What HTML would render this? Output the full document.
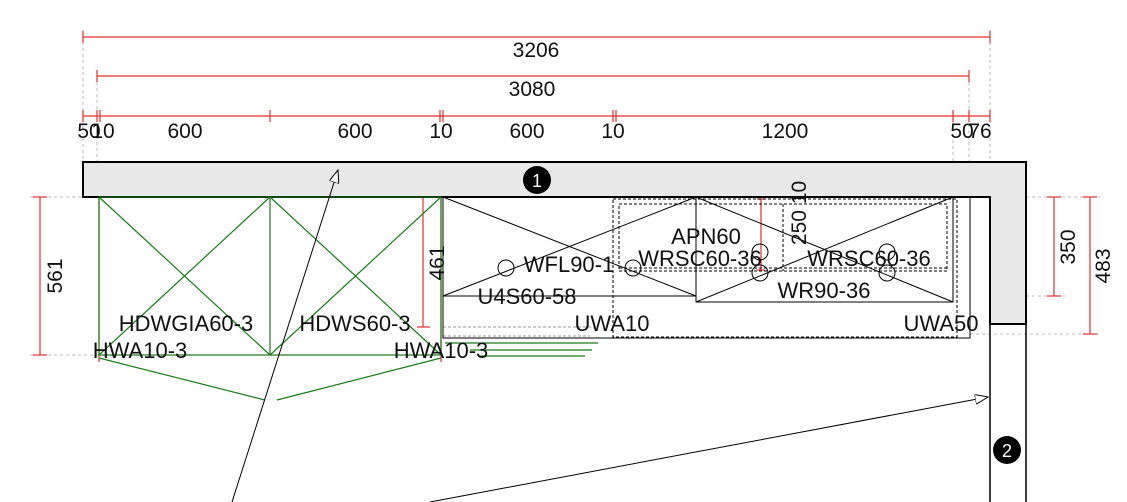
<!DOCTYPE html>
<html><head><style>body{margin:0;background:#fff}svg{display:block;font-family:"Liberation Sans",sans-serif}</style></head>
<body>
<svg width="1127" height="502" viewBox="0 0 1127 502">
<defs><marker id="oa" markerWidth="14" markerHeight="10" refX="13" refY="5" orient="auto" markerUnits="userSpaceOnUse"><path d="M0,0 L13,5 L0,10 Z" fill="#fff" stroke="#000" stroke-width="1"/></marker></defs>
<g stroke="#bbb" stroke-dasharray="3,3" stroke-width="1" fill="none">
<line x1="83" y1="30" x2="83" y2="162"/><line x1="97" y1="70" x2="97" y2="197"/>
<line x1="969" y1="70" x2="969" y2="197"/><line x1="990" y1="30" x2="990" y2="162"/>
<line x1="953" y1="110" x2="953" y2="197"/>
<line x1="30" y1="197" x2="83" y2="197"/><line x1="30" y1="355" x2="99" y2="355"/>
<line x1="990" y1="197" x2="1100" y2="197"/><line x1="990" y1="296" x2="1065" y2="296"/><line x1="970" y1="334" x2="1100" y2="334"/>
</g>
<g stroke="#e03030" stroke-width="1.2" fill="none">
<line x1="83" y1="37" x2="990" y2="37"/><line x1="83" y1="31" x2="83" y2="43"/><line x1="990" y1="31" x2="990" y2="43"/>
<line x1="97" y1="76" x2="969" y2="76"/><line x1="97" y1="70" x2="97" y2="82"/><line x1="969" y1="70" x2="969" y2="82"/>
<line x1="83" y1="116" x2="990" y2="116"/>
<g><line x1="83" y1="110" x2="83" y2="122"/><line x1="97" y1="110" x2="97" y2="122"/><line x1="100" y1="110" x2="100" y2="122"/><line x1="270" y1="110" x2="270" y2="122"/><line x1="440" y1="110" x2="440" y2="122"/><line x1="443" y1="110" x2="443" y2="122"/><line x1="613" y1="110" x2="613" y2="122"/><line x1="616" y1="110" x2="616" y2="122"/><line x1="953" y1="110" x2="953" y2="122"/><line x1="969" y1="110" x2="969" y2="122"/><line x1="990" y1="110" x2="990" y2="122"/></g>
<line x1="40" y1="197" x2="40" y2="355"/><line x1="33" y1="197" x2="47" y2="197"/><line x1="33" y1="355" x2="47" y2="355"/>
<line x1="423" y1="197" x2="423" y2="327"/><line x1="417" y1="327" x2="430" y2="327"/>
<line x1="1054" y1="197" x2="1054" y2="296"/><line x1="1047" y1="197" x2="1061" y2="197"/><line x1="1047" y1="296" x2="1061" y2="296"/>
<line x1="1090" y1="197" x2="1090" y2="334"/><line x1="1083" y1="197" x2="1097" y2="197"/><line x1="1083" y1="334" x2="1097" y2="334"/>
<line x1="761" y1="199" x2="761" y2="270"/><line x1="757" y1="199" x2="765" y2="199"/><line x1="757" y1="270" x2="765" y2="270"/>
<line x1="99" y1="197" x2="99" y2="362"/><line x1="441" y1="197" x2="441" y2="362"/>
</g>
<path d="M83,162 H1026 V324 H990 V197 H83 Z" fill="#e8e8e8" stroke="#000" stroke-width="2"/>
<line x1="990" y1="197" x2="990" y2="502" stroke="#000" stroke-width="1.5"/>
<line x1="1026" y1="162" x2="1026" y2="502" stroke="#000" stroke-width="1.5"/>
<g stroke="#1a7a1a" stroke-width="1.2" fill="none">
<rect x="99" y="197" width="342" height="158"/>
<line x1="270" y1="197" x2="270" y2="355"/>
<line x1="99" y1="197" x2="270" y2="355"/><line x1="270" y1="197" x2="99" y2="355"/>
<line x1="270" y1="197" x2="441" y2="355"/><line x1="441" y1="197" x2="270" y2="355"/>
<line x1="99" y1="358" x2="265" y2="400"/><line x1="277" y1="400" x2="441" y2="358"/>
<line x1="445" y1="343" x2="598" y2="343"/><line x1="470" y1="350" x2="592" y2="350"/><line x1="478" y1="356" x2="585" y2="356"/>
</g>
<g stroke="#999" stroke-dasharray="3,2" fill="none"><line x1="443" y1="327" x2="598" y2="327"/><line x1="443" y1="336" x2="590" y2="336"/></g>
<g stroke="#000" stroke-width="1" fill="none">
<rect x="443" y="197" width="527" height="141"/>
<line x1="443" y1="296" x2="696" y2="296"/>
<line x1="443" y1="197" x2="696" y2="296"/><line x1="443" y1="296" x2="696" y2="197"/>
<rect x="696" y="197" width="257" height="105"/>
<line x1="696" y1="197" x2="953" y2="302"/><line x1="696" y1="302" x2="953" y2="197"/>
<g stroke-dasharray="3,2"><rect x="613" y="199" width="344" height="138"/><rect x="619" y="204" width="328" height="67"/><line x1="619" y1="268" x2="947" y2="268"/><line x1="783" y1="204" x2="783" y2="271"/><line x1="696" y1="302" x2="953" y2="302"/></g>
<circle cx="506" cy="268" r="8"/><circle cx="633" cy="268" r="8"/><circle cx="760" cy="252" r="8"/><circle cx="760" cy="273" r="8"/><circle cx="887" cy="252" r="8"/><circle cx="887" cy="273" r="8"/>
<line x1="232" y1="502" x2="338" y2="170" marker-end="url(#oa)"/>
<line x1="430" y1="502" x2="988" y2="397" marker-end="url(#oa)"/>
</g>
<circle cx="537" cy="180" r="14" fill="#000"/><text x="537" y="187" font-size="18" fill="#fff" text-anchor="middle">1</text>
<circle cx="1007" cy="450" r="14" fill="#000"/><text x="1007" y="457" font-size="18" fill="#fff" text-anchor="middle">2</text>
<g font-size="21" fill="#111" text-anchor="middle">
<text x="536" y="57">3206</text><text x="532" y="96">3080</text>
<text x="89" y="138">50</text><text x="103" y="138">10</text><text x="185" y="138">600</text><text x="355" y="138">600</text><text x="441" y="138">10</text><text x="527" y="138">600</text><text x="613" y="138">10</text><text x="785" y="138">1200</text><text x="962" y="138">50</text><text x="980" y="138">76</text>
<text transform="translate(62,276) rotate(-90)">561</text>
<text transform="translate(444,263) rotate(-90)">461</text>
<text transform="translate(1075,247) rotate(-90)">350</text>
<text transform="translate(1110,266) rotate(-90)">483</text>
<text transform="translate(806,213) rotate(-90)">250 10</text>
</g>
<g font-size="22" fill="#111" text-anchor="middle">
<text x="186" y="331">HDWGIA60-3</text><text x="355" y="331">HDWS60-3</text>
<text x="140" y="358">HWA10-3</text><text x="441" y="358">HWA10-3</text>
<text x="569" y="272">WFL90-1</text><text x="527" y="304">U4S60-58</text>
<text x="706" y="244">APN60</text><text x="700" y="266">WRSC60-36</text><text x="869" y="266">WRSC60-36</text>
<text x="824" y="298">WR90-36</text><text x="612" y="331">UWA10</text><text x="941" y="331">UWA50</text>
</g>
</svg>
</body></html>
